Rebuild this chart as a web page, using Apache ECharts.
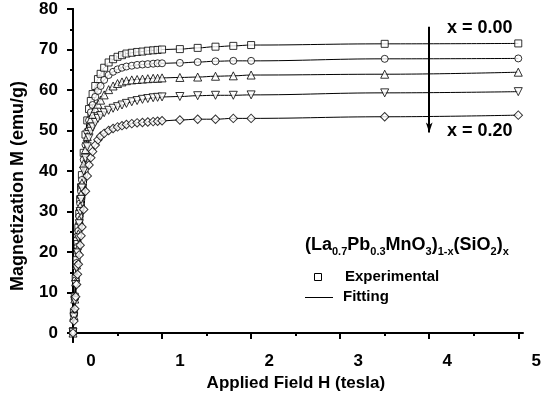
<!DOCTYPE html>
<html lang="en">
<head>
    <meta charset="UTF-8">
    <title>M-H curves</title>
    <script src="https://cdn.jsdelivr.net/npm/echarts@6/dist/echarts.min.js"></script>
    <style>
        body { margin: 0; padding: 0; background: #fff; }
        #box { width: 544px; height: 403px; }
    </style>
</head>
<body>
<div id="box"></div>
<script>
    // applied field (tesla), shared by all samples
    var fieldH = [0, 0.01, 0.02, 0.03, 0.04, 0.05, 0.06, 0.07, 0.08, 0.09, 0.10,
        0.12, 0.14, 0.16, 0.18, 0.20, 0.22, 0.25, 0.28, 0.31, 0.35,
        0.40, 0.45, 0.50, 0.55, 0.60, 0.66, 0.72, 0.78, 0.84, 0.90,
        0.95, 1.00, 1.20, 1.40, 1.60, 1.80, 2.00, 3.50, 5.00];

    // magnetization (emu/g) for each x
    var m000 = [0.5, 5, 9, 13.5, 18, 22, 26, 29.5, 33, 36, 39,
        44.5, 49, 52.5, 55.3, 57.3, 59, 61, 62.7, 64, 65.5,
        66.8, 67.6, 68.2, 68.6, 69.0, 69.2, 69.4, 69.5, 69.7, 69.8,
        69.9, 70.0, 70.1, 70.4, 70.7, 70.9, 71.1, 71.4, 71.5];
    var m005 = [0.3, 4.6, 8.7, 13, 17.3, 21.3, 25.2, 28.8, 32, 35, 37.8,
        42.8, 46.5, 49.8, 52.5, 54.5, 56.3, 58.3, 59.8, 61, 62.5,
        63.7, 64.5, 65.1, 65.5, 65.8, 66.0, 66.2, 66.3, 66.4, 66.5,
        66.6, 66.6, 66.7, 66.9, 67.1, 67.2, 67.2, 67.7, 67.8];
    var m010 = [0, 4.3, 8.4, 12.6, 16.8, 20.7, 24.5, 28, 31.3, 34.3, 37,
        41.8, 45.3, 48.5, 51, 52.8, 54, 55.4, 56.5, 57.5, 58.8,
        60.1, 61, 61.6, 62, 62.3, 62.5, 62.6, 62.7, 62.8, 62.9,
        62.9, 63.0, 63.1, 63.2, 63.4, 63.5, 63.7, 63.9, 64.4];
    var m015 = [0.2, 4, 8, 12, 16, 19.8, 23.5, 27, 30, 33, 35.8,
        40, 43.2, 46, 48.2, 49.8, 50.9, 52, 53, 53.7, 54.4,
        55.0, 55.5, 55.9, 56.3, 56.7, 57.1, 57.4, 57.7, 57.9, 58.1,
        58.2, 58.3, 58.4, 58.6, 58.7, 58.7, 58.8, 59.3, 59.6];
    var m020 = [0, 3, 6, 9, 12, 14.5, 17, 19.3, 21.7, 24, 26.2,
        30.5, 35, 38.8, 41.5, 43.3, 44.8, 46.4, 47.7, 48.6, 49.3,
        50.0, 50.5, 50.9, 51.2, 51.5, 51.7, 51.9, 52.0, 52.1, 52.2,
        52.3, 52.4, 52.6, 52.8, 52.8, 53.0, 53.0, 53.4, 53.8];

    var xMajor = [0, 1, 2, 3, 4, 5];
    var xMinor = [0.5, 1.5, 2.5, 3.5, 4.5];
    var yMajor = [0, 10, 20, 30, 40, 50, 60, 70, 80];
    var yMinor = [5, 15, 25, 35, 45, 55, 65, 75];

    var font = '"Liberation Sans", Arial, sans-serif';
    var xMin = -0.045, xMax = 5.05, yMin = -2.2, yMax = 80;

    function pairs(m) {
        return fieldH.map(function (h, i) { return [h, m[i]]; });
    }

    var curves = [
        {data: m000, symbol: 'rect', size: 7, rotate: 0},
        {data: m005, symbol: 'circle', size: 7, rotate: 0},
        {data: m010, symbol: 'triangle', size: 8, rotate: 0},
        {data: m015, symbol: 'triangle', size: 8, rotate: 180},
        {data: m020, symbol: 'rect', size: 6, rotate: 45}
    ];

    var series = [];
    curves.forEach(function (c) {
        series.push({
            type: 'line', data: pairs(c.data), smooth: 0.4, smoothMonotone: 'x',
            showSymbol: false, silent: true, z: 2,
            lineStyle: {color: '#000', width: 1}
        });
    });
    curves.forEach(function (c) {
        series.push({
            type: 'scatter', data: pairs(c.data), symbol: c.symbol,
            symbolSize: c.size, symbolRotate: c.rotate, z: 3,
            itemStyle: {color: '#fff', borderColor: '#000', borderWidth: 1}
        });
    });
    // arrow from x = 0.00 to x = 0.20
    series[0].markLine = {
        silent: true, symbol: ['none', 'arrow'], symbolSize: [5, 10],
        label: {show: false},
        lineStyle: {color: '#000', width: 2, type: 'solid'},
        data: [[{coord: [4, 75.6]}, {coord: [4, 49.5]}]]
    };

    var lineOnly = {show: true, lineStyle: {color: '#000', width: 2}};

    var option = {
        animation: false,
        backgroundColor: '#fff',
        grid: {left: 69, right: 18, top: 9, bottom: 61},
        xAxis: [
            {
                type: 'value', min: xMin, max: xMax, position: 'bottom',
                axisLine: lineOnly,
                axisTick: {show: true, inside: false, length: 6, customValues: xMajor,
                    lineStyle: {color: '#000', width: 2}},
                axisLabel: {customValues: xMajor, margin: 11, padding: [0, 0, 0, 36],
                    color: '#000', fontFamily: font, fontWeight: 'bold', fontSize: 17},
                splitLine: {show: false},
                name: 'Applied Field H (tesla)', nameLocation: 'middle', nameGap: 30,
                nameTextStyle: {color: '#000', fontFamily: font, fontWeight: 'bold', fontSize: 17}
            },
            {
                type: 'value', min: xMin, max: xMax, position: 'bottom',
                axisLine: {show: false},
                axisTick: {show: true, length: 3, customValues: xMinor,
                    lineStyle: {color: '#000', width: 2}},
                axisLabel: {show: false}, splitLine: {show: false}
            },
            {
                type: 'value', min: xMin, max: xMax, position: 'top',
                axisLine: lineOnly, axisTick: {show: false},
                axisLabel: {show: false}, splitLine: {show: false}
            }
        ],
        yAxis: [
            {
                type: 'value', min: yMin, max: yMax, position: 'left',
                axisLine: lineOnly,
                axisTick: {show: true, length: 6, customValues: yMajor,
                    lineStyle: {color: '#000', width: 2}},
                axisLabel: {customValues: yMajor, margin: 11,
                    color: '#000', fontFamily: font, fontWeight: 'bold', fontSize: 17},
                splitLine: {show: false}
            },
            {
                type: 'value', min: yMin, max: yMax, position: 'left',
                axisLine: {show: false},
                axisTick: {show: true, length: 3, customValues: yMinor,
                    lineStyle: {color: '#000', width: 2}},
                axisLabel: {show: false}, splitLine: {show: false}
            },
            {
                type: 'value', min: yMin, max: yMax, position: 'right',
                axisLine: lineOnly, axisTick: {show: false},
                axisLabel: {show: false}, splitLine: {show: false}
            }
        ],
        series: series,
        graphic: [
            {
                type: 'text', x: 18, y: 186, rotation: Math.PI / 2,
                style: {text: 'Magnetization M (emu/g)', font: 'bold 18px ' + font,
                    fill: '#000', align: 'center', verticalAlign: 'middle'}
            },
            {
                type: 'text', x: 447, y: 28,
                style: {text: 'x = 0.00', font: 'bold 18px ' + font, fill: '#000',
                    align: 'left', verticalAlign: 'middle'}
            },
            {
                type: 'text', x: 447, y: 131,
                style: {text: 'x = 0.20', font: 'bold 18px ' + font, fill: '#000',
                    align: 'left', verticalAlign: 'middle'}
            },
            {
                type: 'text', x: 305, y: 245,
                style: {
                    text: '{m|(La}{s|0.7}{m|Pb}{s|0.3}{m|MnO}{s|3}{m|)}{s|1-x}{m|(SiO}{s|2}{m|)}{s|x}',
                    align: 'left', verticalAlign: 'middle', fill: '#000',
                    rich: {
                        m: {font: 'bold 18px ' + font, lineHeight: 24},
                        s: {font: 'bold 11px ' + font, lineHeight: 24, verticalAlign: 'bottom'}
                    }
                }
            },
            {
                type: 'rect', shape: {x: 314.5, y: 273.5, width: 7, height: 7},
                style: {fill: '#fff', stroke: '#000', lineWidth: 1}
            },
            {
                type: 'text', x: 345, y: 277,
                style: {text: 'Experimental', font: 'bold 15px ' + font, fill: '#000',
                    align: 'left', verticalAlign: 'middle'}
            },
            {
                type: 'line', shape: {x1: 305, y1: 297.5, x2: 333, y2: 297.5},
                style: {stroke: '#000', lineWidth: 1}
            },
            {
                type: 'text', x: 343, y: 297,
                style: {text: 'Fitting', font: 'bold 15px ' + font, fill: '#000',
                    align: 'left', verticalAlign: 'middle'}
            }
        ]
    };

    var myChart = echarts.init(document.getElementById('box'));
    myChart.setOption(option);
</script>
</body>
</html>
